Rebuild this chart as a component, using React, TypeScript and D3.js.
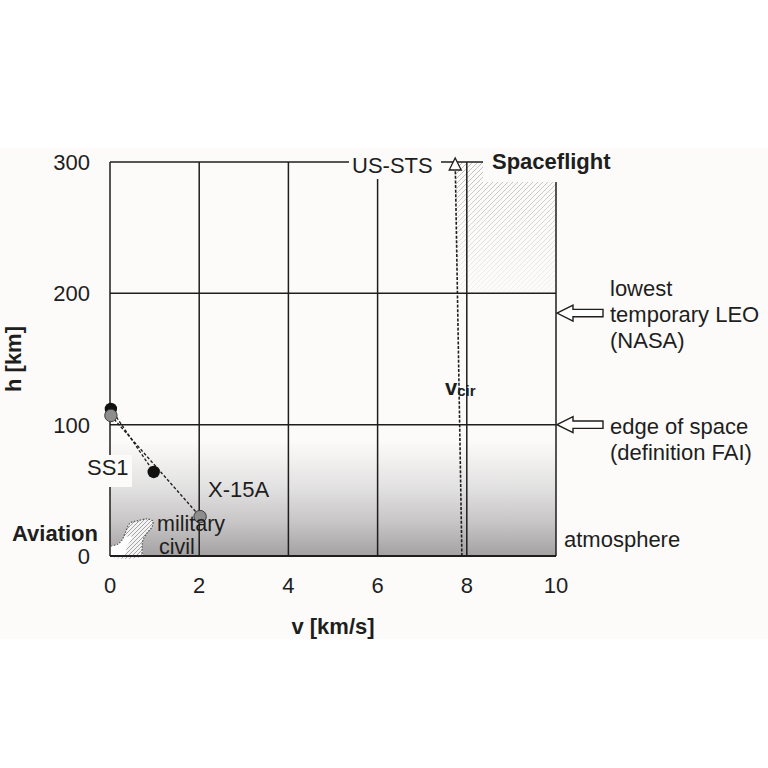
import React from "react";
import * as d3 from "d3";

const xTicks = [0, 2, 4, 6, 8, 10];
const yTicks = [0, 100, 200, 300];
const gridH = [100, 200, 300];
const ss1 = [{ v: 0.02, h: 112 }, { v: 0.98, h: 64 }];
const x15a = [{ v: 0.02, h: 107 }, { v: 2.02, h: 30 }];
const vcir = [{ v: 7.89, h: 0 }, { v: 7.84, h: 100 }, { v: 7.79, h: 200 }, { v: 7.74, h: 300 }];
const usSts = { v: 7.74, h: 300 };
const aviationOuter: [number, number][] = [
  [0.02, 7.6], [0.18, 9.1], [0.27, 12.2], [0.34, 17.5], [0.45, 25.1], [0.61, 26.7],
  [0.83, 28.2], [0.96, 26.7], [0.94, 22.1], [0.83, 17.5], [0.74, 12.2], [0.72, 6.1], [0.72, 0],
];
const aviationCivil: [number, number][] = [
  [0.02, 7.6], [0.18, 9.1], [0.27, 12.2], [0.34, 14.2], [0.47, 15.0], [0.5, 13.7],
  [0.44, 10.7], [0.38, 6.9], [0.31, 0],
];
const atmosphereTop = 88;
const spaceflightBottom = 200;
const arrowMarks = [
  { h: 185, lines: ["lowest", "temporary LEO", "(NASA)"] },
  { h: 100, lines: ["edge of space", "(definition FAI)"] },
];

const W = 768;
const H = 768;
const BG = "#fcfbf9";
const INK = "#1e1e1e";
const FONT = "'Liberation Sans', Arial, sans-serif";

export default function App() {
  const x = d3.scaleLinear().domain([0, 10]).range([110, 556]);
  const y = d3.scaleLinear().domain([0, 300]).range([556, 162]);

  const lineP = d3.line<{ v: number; h: number }>().x((d) => x(d.v)).y((d) => y(d.h));
  const curve = d3
    .line<[number, number]>()
    .x((d) => x(d[0]))
    .y((d) => y(d[1]))
    .curve(d3.curveCatmullRom);

  const vTop = vcir.filter((d) => d.h >= spaceflightBottom);
  const hatchPoly =
    vTop.map((d) => `${x(d.v)},${y(d.h)}`).join(" ") +
    ` ${x(10)},${y(300)} ${x(10)},${y(spaceflightBottom)}`;

  const avFill = curve([...aviationOuter, [0, 0], [0, 7.6]] as [number, number][]) as string;
  const avLine = curve(aviationOuter) as string;
  const civFill = curve([...aviationCivil, [0, 0], [0, 7.6]] as [number, number][]) as string;

  const tri = (cx: number, cy: number) =>
    `M${cx},${cy - 6} L${cx + 6},${cy + 6} L${cx - 6},${cy + 6} Z`;
  const arrowPath = (tipX: number, cy: number) =>
    `M${tipX},${cy} L${tipX + 16},${cy - 8} L${tipX + 16},${cy - 3.7} L${tipX + 46},${cy - 3.7} L${tipX + 46},${cy + 3.7} L${tipX + 16},${cy + 3.7} L${tipX + 16},${cy + 8} Z`;

  return (
    <svg
      width={W}
      height={H}
      style={{ position: "absolute", left: 0, top: 0, background: "#fff" }}
      fontFamily={FONT}
    >
      <defs>
        <linearGradient id="atm" x1="0" y1="0" x2="0" y2="1">
          <stop offset="0" stopColor={BG} />
          <stop offset="0.4" stopColor="#e3e2e2" />
          <stop offset="0.7" stopColor="#c8c6c6" />
          <stop offset="1" stopColor="#a3a1a1" />
        </linearGradient>
        <pattern id="hatch" width="5" height="5" patternUnits="userSpaceOnUse">
          <path d="M-1,1 L1,-1 M0,5 L5,0 M4,6 L6,4" stroke="#b5b5b5" strokeWidth="0.9" />
        </pattern>
        <pattern id="hatch2" width="4" height="4" patternUnits="userSpaceOnUse">
          <rect width="4" height="4" fill="#f4f4f4" />
          <path d="M-1,1 L1,-1 M0,4 L4,0 M3,5 L5,3" stroke="#9a9a9a" strokeWidth="0.9" />
        </pattern>
        <linearGradient id="fadeG" x1="0" y1="0" x2="0" y2="1">
          <stop offset="0" stopColor="#fff" stopOpacity="1" />
          <stop offset="1" stopColor="#fff" stopOpacity="0.1" />
        </linearGradient>
        <mask id="fade" maskContentUnits="objectBoundingBox">
          <rect width="1" height="1" fill="url(#fadeG)" />
        </mask>
      </defs>

      <rect x={0} y={148} width={W} height={491} fill={BG} />

      {/* atmosphere */}
      <rect
        x={x(0)}
        y={y(atmosphereTop)}
        width={x(10) - x(0)}
        height={y(0) - y(atmosphereTop)}
        fill="url(#atm)"
      />

      {/* spaceflight hatched */}
      <polygon points={hatchPoly} fill="url(#hatch)" mask="url(#fade)" />

      {/* aviation */}
      <path d={avFill} fill="url(#hatch2)" />
      <path d={civFill} fill="#ffffff" />
      <path d={avLine} fill="none" stroke="#555" strokeWidth={1.2} strokeDasharray="1.5,1.5" />

      {/* grid */}
      {xTicks.map((t) => (
        <line key={"gx" + t} x1={x(t)} x2={x(t)} y1={y(0)} y2={y(300)} stroke={INK} strokeWidth={1.5} />
      ))}
      {gridH.map((t) => (
        <line key={"gy" + t} x1={x(0)} x2={x(10)} y1={y(t)} y2={y(t)} stroke={INK} strokeWidth={1.5} />
      ))}
      <line x1={x(0)} x2={x(10)} y1={y(0)} y2={y(0)} stroke={INK} strokeWidth={2.2} />

      {/* v_cir */}
      <path d={lineP(vcir) as string} fill="none" stroke={INK} strokeWidth={1.6} strokeDasharray="3,1.6" />

      {/* trajectories */}
      <path d={lineP(ss1) as string} fill="none" stroke={INK} strokeWidth={1.3} strokeDasharray="3,2" />
      <path d={lineP(x15a) as string} fill="none" stroke={INK} strokeWidth={1.3} strokeDasharray="3,2" />
      {ss1.map((d, i) => (
        <circle key={"s" + i} cx={x(d.v)} cy={y(d.h)} r={6.2} fill="#111" />
      ))}
      {x15a.map((d, i) => (
        <circle key={"x" + i} cx={x(d.v)} cy={y(d.h)} r={6.2} fill="#8d8d8d" stroke="#3a3a3a" strokeWidth={1} />
      ))}

      {/* label boxes */}
      <rect x={349} y={148} width={92} height={31} fill={BG} />
      <rect x={483} y={148} width={140} height={34} fill={BG} />
      <rect x={84} y={455} width={48} height={32} fill={BG} />

      {/* US-STS */}
      <path d={tri(x(usSts.v), y(usSts.h) + 2)} fill="#fff" stroke={INK} strokeWidth={1.3} />
      <text x={352} y={173} fontSize={22} fill={INK}>US-STS</text>
      <text x={492} y={169} fontSize={22} fontWeight="bold" fill={INK}>Spaceflight</text>

      <text x={445} y={395} fontSize={22} fontWeight="bold" fill={INK}>
        v<tspan fontSize={15} dy={1}>cir</tspan>
      </text>

      {/* arrows */}
      {arrowMarks.map((a, i) => (
        <g key={"a" + i}>
          <path d={arrowPath(x(10) + 1, y(a.h))} fill="#fff" stroke={INK} strokeWidth={1.4} />
          {a.lines.map((l, j) => (
            <text key={j} x={610} y={y(a.h) + 9 + (j - (a.lines.length === 3 ? 1 : 0)) * 26} fontSize={22} fill={INK}>
              {l}
            </text>
          ))}
        </g>
      ))}

      <text x={564} y={547} fontSize={22} fill={INK}>atmosphere</text>
      <text x={87} y={475} fontSize={22} fill={INK}>SS1</text>
      <text x={208} y={497} fontSize={22} fill={INK}>X-15A</text>
      <text x={157} y={531} fontSize={21.5} fill={INK}>military</text>
      <text x={159} y={554} fontSize={21.5} fill={INK}>civil</text>
      <text x={12} y={541} fontSize={22} fontWeight="bold" fill={INK}>Aviation</text>

      {/* ticks */}
      {yTicks.map((t) => (
        <text key={"yt" + t} x={90} y={y(t) + 8} fontSize={22} textAnchor="end" fill={INK}>
          {t}
        </text>
      ))}
      {xTicks.map((t) => (
        <text key={"xt" + t} x={x(t)} y={593} fontSize={22} textAnchor="middle" fill={INK}>
          {t}
        </text>
      ))}
      <text x={x(5)} y={634} fontSize={22} fontWeight="bold" textAnchor="middle" fill={INK}>
        v [km/s]
      </text>
      <text
        transform={`translate(21,${(y(0) + y(300)) / 2}) rotate(-90)`}
        fontSize={22}
        fontWeight="bold"
        textAnchor="middle"
        fill={INK}
      >
        h [km]
      </text>
    </svg>
  );
}
